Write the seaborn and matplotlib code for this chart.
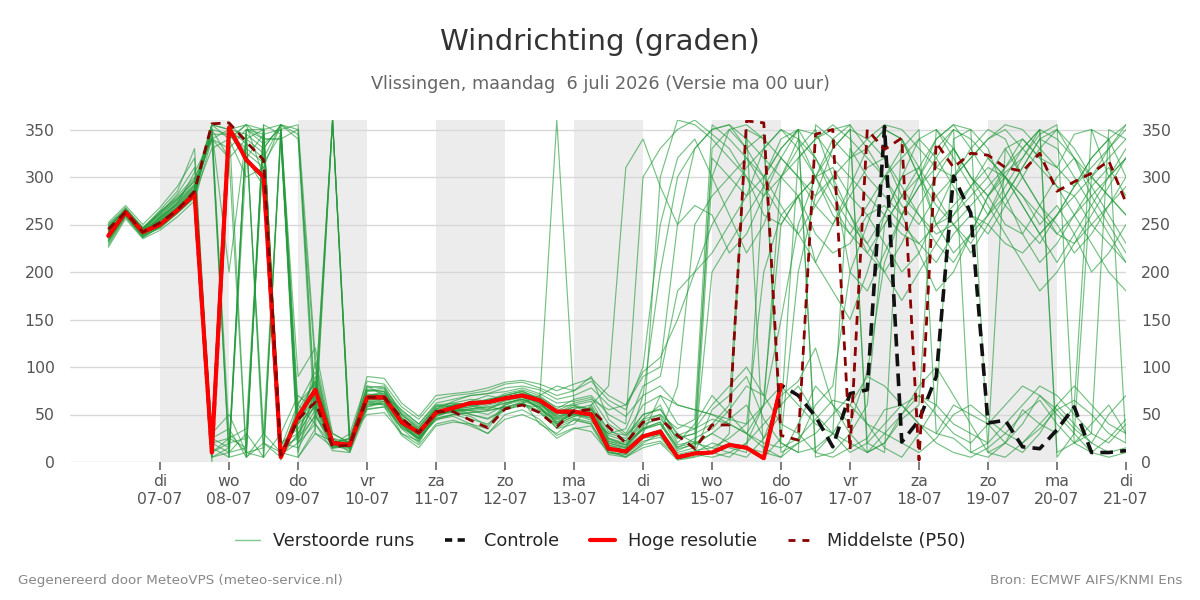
import numpy as np
import pandas as pd
import matplotlib
matplotlib.use("Agg")
import matplotlib.pyplot as plt
from matplotlib.lines import Line2D
import seaborn as sns

# tijdstappen: elke 6 uur vanaf ma 6 juli 06:00
tijden = pd.date_range("2026-07-06 06:00", periods=60, freq="6h")

dagnamen = ["ma", "di", "wo", "do", "vr", "za", "zo"]
tick_dagen = pd.date_range("2026-07-07", "2026-07-21", freq="D")
grijze_dagen = pd.date_range("2026-07-07", periods=7, freq="2D")

# hoge resolutie (tot do 16-07 00 uur)
hoge_resolutie = [238, 263, 242, 250, 265, 282, 10, 352, 318, 300, 5,
                  48, 76, 20, 18, 68, 68, 42, 31, 52, 57, 62, 63, 67, 70,
                  65, 53, 53, 50, 14, 11, 27, 32, 5, 9, 10, 18, 15, 4, 81]
# controle valt tot 16-07 samen met de hoge resolutie
controle_vervolg = [81, 70, 48, 16, 72, 76, 353, 21, 44, 90, 301, 262, 41,
                    44, 16, 14, 34, 58, 10, 10, 12]
controle = hoge_resolutie[:-1] + controle_vervolg

middelste = [245, 263, 242, 252, 265, 285, 356, 357, 337, 318, 7,
             45, 63, 16, 18, 68, 68, 46, 31, 53, 53, 44, 36, 56, 60,
             52, 37, 54, 55, 37, 20, 42, 46, 28, 14, 39, 39, 359, 357, 28,
             23, 345, 350, 13, 350, 329, 341, 2, 336, 310, 325, 323, 310,
             306, 325, 285, 295, 304, 317, 273]

# verstoorde runs (ensemble)
run_01 = [232, 260, 238, 258, 272, 288, 355, 350, 335, 320, 355, 45, 90, 22, 15,
          70, 72, 48, 30, 58, 62, 60, 55, 65, 70, 55, 45, 50, 58, 25, 18, 35, 40, 12, 20,
          30, 45, 60, 25, 70, 85, 120, 60, 40, 95, 210, 260, 290, 310, 330, 300, 280, 250,
          240, 270, 300, 320, 290, 260, 230]
run_02 = [245, 265, 244, 262, 280, 300, 15, 5, 350, 340, 20, 30, 60, 18, 22,
          62, 60, 40, 28, 48, 55, 58, 62, 68, 72, 68, 58, 60, 48, 30, 25, 50, 55, 30, 20,
          15, 10, 5, 25, 50, 320, 340, 350, 355, 10, 20, 45, 60, 350, 330, 300, 280, 305,
          320, 345, 355, 20, 40, 60, 30]
run_03 = [228, 258, 236, 248, 262, 280, 350, 30, 10, 5, 350, 355, 110, 25, 10,
          75, 78, 38, 25, 45, 48, 40, 35, 60, 65, 40, 30, 45, 40, 12, 5, 20, 30, 80, 250,
          280, 300, 320, 290, 260, 240, 270, 300, 200, 180, 220, 260, 300, 340, 355, 350,
          330, 280, 240, 210, 230, 260, 290, 310, 280]
run_04 = [250, 268, 246, 265, 285, 330, 5, 10, 15, 350, 355, 60, 95, 20, 25,
          80, 70, 55, 40, 60, 58, 50, 45, 55, 62, 70, 80, 75, 90, 45, 30, 60, 70, 40, 35,
          60, 80, 100, 70, 40, 30, 10, 5, 15, 25, 55, 60, 40, 30, 25, 10, 5, 20, 40, 70,
          55, 35, 20, 10, 15]
run_05 = [238, 264, 242, 252, 268, 282, 330, 340, 300, 310, 20, 15, 45, 360, 15,
          60, 62, 35, 20, 50, 52, 55, 58, 55, 60, 52, 40, 55, 50, 10, 8, 25, 28, 3, 6,
          300, 350, 330, 345, 20, 10, 355, 340, 320, 330, 350, 340, 300, 250, 260, 280,
          300, 330, 340, 320, 310, 345, 350, 300, 320]
run_06 = [242, 262, 240, 255, 272, 305, 340, 320, 5, 30, 345, 50, 70, 360, 20,
          72, 68, 40, 25, 52, 60, 62, 64, 70, 75, 65, 40, 48, 52, 20, 15, 30, 300, 360, 355,
          340, 320, 300, 260, 250, 280, 210, 180, 150, 200, 260, 300, 310, 250, 220, 240,
          260, 300, 280, 250, 270, 240, 200, 220, 250]
run_07 = [236, 263, 241, 250, 266, 284, 20, 355, 340, 30, 10, 40, 75, 18, 12,
          65, 66, 42, 32, 50, 56, 60, 66, 68, 72, 62, 360, 60, 55, 35, 22, 45, 60, 20, 40,
          70, 50, 30, 15, 5, 20, 60, 80, 200, 250, 300, 330, 350, 30, 60, 50, 40, 20, 10,
          30, 60, 40, 20, 50, 70]
run_08 = [240, 266, 244, 256, 268, 285, 345, 345, 320, 290, 15, 25, 55, 15, 20,
          58, 64, 30, 22, 46, 50, 45, 40, 55, 60, 58, 35, 40, 60, 80, 310, 340, 290, 250, 270,
          260, 220, 240, 280, 320, 300, 270, 250, 280, 310, 320, 290, 260, 230, 210, 240,
          280, 300, 270, 240, 260, 290, 320, 340, 300]
run_09 = [248, 264, 245, 260, 276, 292, 0, 350, 355, 300, 8, 20, 50, 14, 18,
          66, 70, 44, 28, 54, 52, 48, 38, 62, 66, 60, 50, 58, 56, 25, 20, 40, 45, 25, 30,
          40, 60, 350, 340, 10, 20, 30, 50, 70, 40, 15, 5, 30, 60, 340, 350, 10, 20, 55,
          40, 30, 60, 350, 340, 20]
run_10 = [234, 261, 239, 246, 262, 278, 350, 200, 345, 330, 355, 345, 30, 22, 16,
          70, 74, 46, 34, 52, 58, 64, 70, 66, 70, 62, 48, 52, 46, 14, 10, 30, 70, 60, 55,
          50, 40, 30, 60, 80, 60, 40, 30, 20, 10, 30, 50, 70, 60, 40, 30, 20, 40, 60, 80,
          70, 50, 30, 20, 40]
run_11 = [244, 263, 243, 258, 270, 287, 10, 25, 35, 350, 20, 35, 65, 20, 25,
          78, 80, 50, 36, 60, 62, 66, 64, 72, 76, 70, 56, 66, 70, 50, 40, 300, 330, 350, 360,
          345, 330, 300, 280, 300, 320, 340, 355, 340, 320, 300, 270, 250, 280, 300, 320,
          340, 350, 330, 310, 290, 280, 300, 320, 340]
run_12 = [239, 262, 241, 253, 267, 283, 355, 5, 350, 345, 350, 10, 80, 25, 14,
          64, 60, 38, 24, 48, 54, 56, 60, 64, 68, 56, 42, 50, 44, 18, 12, 28, 32, 8, 12,
          15, 25, 40, 200, 260, 280, 240, 220, 230, 260, 270, 250, 230, 210, 240, 260,
          250, 230, 220, 240, 260, 280, 250, 230, 210]
run_13 = [246, 267, 247, 262, 282, 310, 15, 340, 355, 340, 340, 5, 30, 16, 22,
          56, 58, 36, 26, 44, 50, 52, 54, 58, 62, 54, 38, 46, 42, 30, 35, 80, 90, 180, 200,
          220, 250, 280, 300, 330, 350, 5, 10, 30, 60, 250, 280, 300, 330, 350, 340, 320,
          300, 330, 350, 10, 20, 30, 350, 340]
run_14 = [230, 259, 237, 247, 263, 279, 25, 35, 5, 355, 5, 50, 85, 30, 20,
          74, 76, 52, 38, 56, 64, 70, 72, 74, 78, 72, 62, 64, 68, 40, 28, 45, 50, 35, 45,
          355, 340, 320, 300, 330, 350, 345, 320, 300, 280, 260, 240, 230, 250, 270, 290,
          310, 300, 280, 260, 240, 230, 250, 270, 290]
run_15 = [241, 265, 243, 254, 268, 286, 350, 320, 340, 350, 2, 60, 40, 18, 14,
          60, 64, 40, 22, 50, 54, 50, 46, 56, 64, 58, 40, 48, 54, 22, 16, 38, 48, 18, 22,
          10, 5, 20, 40, 60, 80, 50, 30, 10, 20, 40, 60, 70, 50, 30, 20, 40, 60, 80, 70,
          50, 30, 10, 5, 10]
run_16 = [236, 261, 240, 250, 265, 283, 5, 15, 350, 350, 10, 28, 62, 20, 16,
          68, 70, 44, 30, 54, 56, 54, 50, 60, 68, 62, 46, 54, 50, 20, 15, 35, 42, 15, 25,
          35, 55, 80, 70, 250, 280, 300, 310, 280, 260, 230, 200, 220, 260, 300, 330, 350,
          340, 300, 270, 250, 220, 240, 270, 300]
run_17 = [250, 265, 246, 264, 278, 296, 30, 50, 10, 15, 340, 350, 50, 20, 24,
          80, 78, 54, 40, 62, 66, 70, 72, 78, 80, 76, 66, 70, 78, 60, 48, 70, 80, 60, 55,
          50, 45, 40, 60, 300, 330, 350, 300, 260, 220, 200, 230, 270, 300, 330, 300, 270,
          240, 210, 180, 200, 230, 260, 290, 320]
run_18 = [243, 264, 242, 257, 271, 290, 340, 350, 345, 20, 5, 42, 68, 15, 18,
          66, 66, 42, 30, 52, 58, 60, 64, 66, 70, 64, 50, 56, 60, 28, 22, 42, 50, 25, 30,
          320, 300, 280, 330, 350, 340, 300, 260, 240, 270, 300, 320, 340, 350, 320, 290,
          260, 280, 310, 340, 350, 330, 300, 280, 260]
run_19 = [232, 261, 239, 249, 264, 281, 20, 10, 30, 5, 350, 90, 120, 30, 20,
          70, 72, 46, 34, 55, 60, 62, 64, 68, 72, 64, 52, 60, 64, 32, 28, 50, 56, 28, 35,
          45, 40, 30, 20, 15, 25, 45, 65, 60, 40, 30, 20, 10, 25, 50, 60, 45, 30, 20, 35,
          55, 65, 50, 30, 20]
run_20 = [247, 266, 245, 263, 277, 295, 355, 350, 325, 310, 355, 340, 100, 22, 18,
          76, 74, 50, 34, 56, 60, 62, 66, 70, 74, 68, 54, 62, 66, 55, 60, 90, 100, 250, 330,
          350, 355, 340, 320, 300, 280, 300, 330, 350, 340, 320, 280, 260, 240, 250, 270,
          290, 310, 330, 350, 340, 320, 300, 280, 260]
run_21 = [226, 256, 235, 244, 258, 275, 340, 5, 10, 355, 345, 20, 105, 18, 30,
          85, 82, 58, 45, 66, 70, 72, 75, 82, 84, 78, 70, 75, 85, 65, 55, 100, 250, 320, 340,
          300, 260, 220, 250, 300, 340, 320, 280, 250, 230, 260, 300, 340, 320, 290, 260,
          240, 270, 300, 330, 350, 320, 280, 250, 220]
run_22 = [252, 270, 250, 268, 290, 320, 25, 15, 345, 5, 30, 70, 55, 360, 28,
          50, 52, 30, 18, 40, 44, 38, 30, 45, 50, 42, 25, 35, 38, 8, 5, 15, 20, 2, 5,
          10, 30, 350, 5, 25, 200, 280, 330, 350, 20, 10, 340, 300, 270, 250, 230, 260,
          290, 320, 350, 5, 30, 300, 330, 355]
run_23 = [237, 262, 240, 251, 266, 284, 350, 345, 330, 315, 345, 20, 40, 12, 10,
          55, 58, 28, 15, 38, 42, 40, 30, 50, 55, 45, 28, 36, 32, 10, 6, 18, 22, 5, 10,
          55, 70, 90, 45, 20, 10, 15, 30, 60, 90, 80, 60, 40, 20, 10, 5, 15, 30, 50, 65,
          40, 20, 10, 25, 45]
run_24 = [243, 263, 242, 257, 273, 292, 5, 355, 5, 20, 10, 55, 85, 22, 18,
          90, 88, 62, 48, 70, 72, 74, 78, 84, 86, 82, 75, 82, 88, 70, 60, 95, 110, 150, 200,
          250, 280, 310, 330, 350, 330, 300, 270, 240, 220, 250, 280, 310, 340, 355, 330,
          300, 270, 250, 230, 260, 290, 320, 340, 355]
run_25 = [240, 265, 243, 255, 269, 287, 345, 10, 320, 345, 5, 30, 72, 360, 20,
          66, 68, 44, 30, 52, 56, 58, 62, 66, 70, 60, 46, 52, 50, 18, 14, 28, 34, 10, 15,
          200, 230, 260, 290, 320, 350, 10, 30, 330, 300, 280, 260, 290, 320, 350, 10, 20,
          330, 300, 270, 240, 260, 280, 300, 320]
run_26 = [235, 260, 238, 249, 263, 281, 10, 20, 25, 330, 355, 350, 60, 20, 15,
          62, 66, 40, 26, 50, 54, 56, 58, 62, 66, 58, 44, 50, 46, 16, 12, 26, 30, 6, 10,
          20, 15, 10, 300, 340, 350, 320, 290, 260, 230, 200, 170, 200, 230, 260, 290, 320,
          300, 270, 240, 210, 240, 270, 300, 330]
run_27 = [248, 266, 246, 261, 276, 298, 340, 330, 350, 335, 350, 25, 48, 20, 22,
          70, 70, 46, 32, 54, 58, 60, 62, 66, 70, 62, 48, 54, 52, 22, 18, 34, 40, 14, 18,
          30, 20, 15, 10, 5, 40, 80, 60, 30, 10, 20, 50, 80, 100, 70, 40, 10, 5, 20, 40,
          60, 80, 60, 40, 30]
run_28 = [233, 259, 237, 247, 262, 279, 15, 345, 340, 325, 15, 62, 82, 25, 20,
          76, 74, 50, 36, 58, 60, 62, 64, 70, 74, 66, 52, 58, 56, 24, 18, 36, 42, 16, 20,
          330, 350, 355, 340, 320, 300, 280, 300, 320, 340, 355, 350, 330, 310, 300, 320,
          340, 355, 350, 330, 310, 290, 310, 330, 350]
run_29 = [244, 264, 244, 259, 274, 290, 355, 340, 355, 350, 10, 5, 35, 360, 12,
          58, 62, 36, 24, 46, 50, 52, 54, 58, 62, 52, 36, 44, 40, 10, 8, 22, 26, 4, 8,
          5, 10, 20, 60, 150, 250, 300, 340, 355, 330, 300, 260, 220, 180, 200, 240, 280,
          310, 340, 320, 290, 260, 230, 200, 180]
run_30 = [239, 263, 241, 254, 267, 285, 20, 25, 15, 340, 340, 40, 58, 16, 16,
          64, 64, 40, 28, 50, 54, 54, 56, 62, 66, 58, 42, 50, 48, 16, 12, 70, 200, 300, 330,
          350, 355, 330, 300, 270, 240, 210, 250, 290, 330, 350, 340, 310, 280, 250, 220,
          250, 280, 310, 340, 330, 300, 270, 240, 210]

runs = [run_01, run_02, run_03, run_04, run_05, run_06, run_07, run_08, run_09, run_10,
        run_11, run_12, run_13, run_14, run_15, run_16, run_17, run_18, run_19, run_20,
        run_21, run_22, run_23, run_24, run_25, run_26, run_27, run_28, run_29, run_30]

ens = pd.concat(
    [pd.DataFrame({"tijd": tijden, "graden": r, "lid": i}) for i, r in enumerate(runs)],
    ignore_index=True)
df_ctrl = pd.DataFrame({"tijd": tijden, "graden": controle})
df_hres = pd.DataFrame({"tijd": tijden[:len(hoge_resolutie)], "graden": hoge_resolutie})
df_p50 = pd.DataFrame({"tijd": tijden, "graden": middelste})

sns.set_theme(style="white")
plt.rcParams["font.family"] = ["DejaVu Sans"]

fig = plt.figure(figsize=(12, 6), dpi=100)
ax = fig.add_axes([70 / 1200, 0.23, 1056 / 1200, 0.57])

groen = "#239b3a"
for d in grijze_dagen:
    ax.axvspan(d, d + pd.Timedelta(days=1), color="#ececec", lw=0, zorder=0)

sns.lineplot(data=ens, x="tijd", y="graden", units="lid", estimator=None,
             color=groen, lw=0.85, alpha=0.62, ax=ax, zorder=2)
sns.lineplot(data=df_ctrl, x="tijd", y="graden", color="#111111", lw=2.6,
             ax=ax, zorder=3).lines[-1].set_dashes((3.5, 2.0))
sns.lineplot(data=df_hres, x="tijd", y="graden", color="#ff0000", lw=3,
             ax=ax, zorder=4)
sns.lineplot(data=df_p50, x="tijd", y="graden", color="#8b0000", lw=2,
             ax=ax, zorder=5).lines[-1].set_dashes((3.2, 2.4))

ax.set_xlim(pd.Timestamp("2026-07-05 16:40"), pd.Timestamp("2026-07-21 00:00"))
ax.set_ylim(0, 360)
ax.set_yticks(range(0, 351, 50))
ax.set_xticks(tick_dagen)
ax.set_xticklabels([f"{dagnamen[d.weekday()]}\n{d:%d-%m}" for d in tick_dagen])
ax.set_xlabel("")
ax.set_ylabel("")
ax.grid(axis="y", color="#d8d8d8", lw=1)
ax.set_axisbelow(True)
for s in ax.spines.values():
    s.set_visible(False)
ax.tick_params(axis="x", bottom=True, length=6, width=1.2, color="#666666",
               labelsize=11.3, labelcolor="#555555", pad=3)
ax.tick_params(axis="y", left=False, right=False, labelleft=True, labelright=True,
               labelsize=11.3, labelcolor="#555555", pad=5)

fig.text(0.5, 0.93, "Windrichting (graden)", ha="center", va="center",
         fontsize=21, color="#333333")
fig.text(0.5, 0.86, "Vlissingen, maandag  6 juli 2026 (Versie ma 00 uur)",
         ha="center", va="center", fontsize=12.7, color="#666666")

handles = [
    Line2D([], [], color="#7fc98a", lw=1),
    Line2D([], [], color="#111111", lw=2.6, dashes=(2, 1.5)),
    Line2D([], [], color="#ff0000", lw=3),
    Line2D([], [], color="#8b0000", lw=2, dashes=(2.5, 2.5)),
]
labels = ["Verstoorde runs", "Controle", "Hoge resolutie", "Middelste (P50)"]
fig.legend(handles, labels, loc="center", bbox_to_anchor=(0.5, 0.098), ncol=4,
           frameon=False, fontsize=12.8, handlelength=1.4, handletextpad=0.75,
           columnspacing=1.75)

fig.text(18 / 1200, 0.033, "Gegenereerd door MeteoVPS (meteo-service.nl)",
         ha="left", va="center", fontsize=9.7, color="#888888")
fig.text(1182 / 1200, 0.033, "Bron: ECMWF AIFS/KNMI Ens",
         ha="right", va="center", fontsize=9.7, color="#888888")

fig.savefig("out.png", dpi=100)
plt.close(fig)
